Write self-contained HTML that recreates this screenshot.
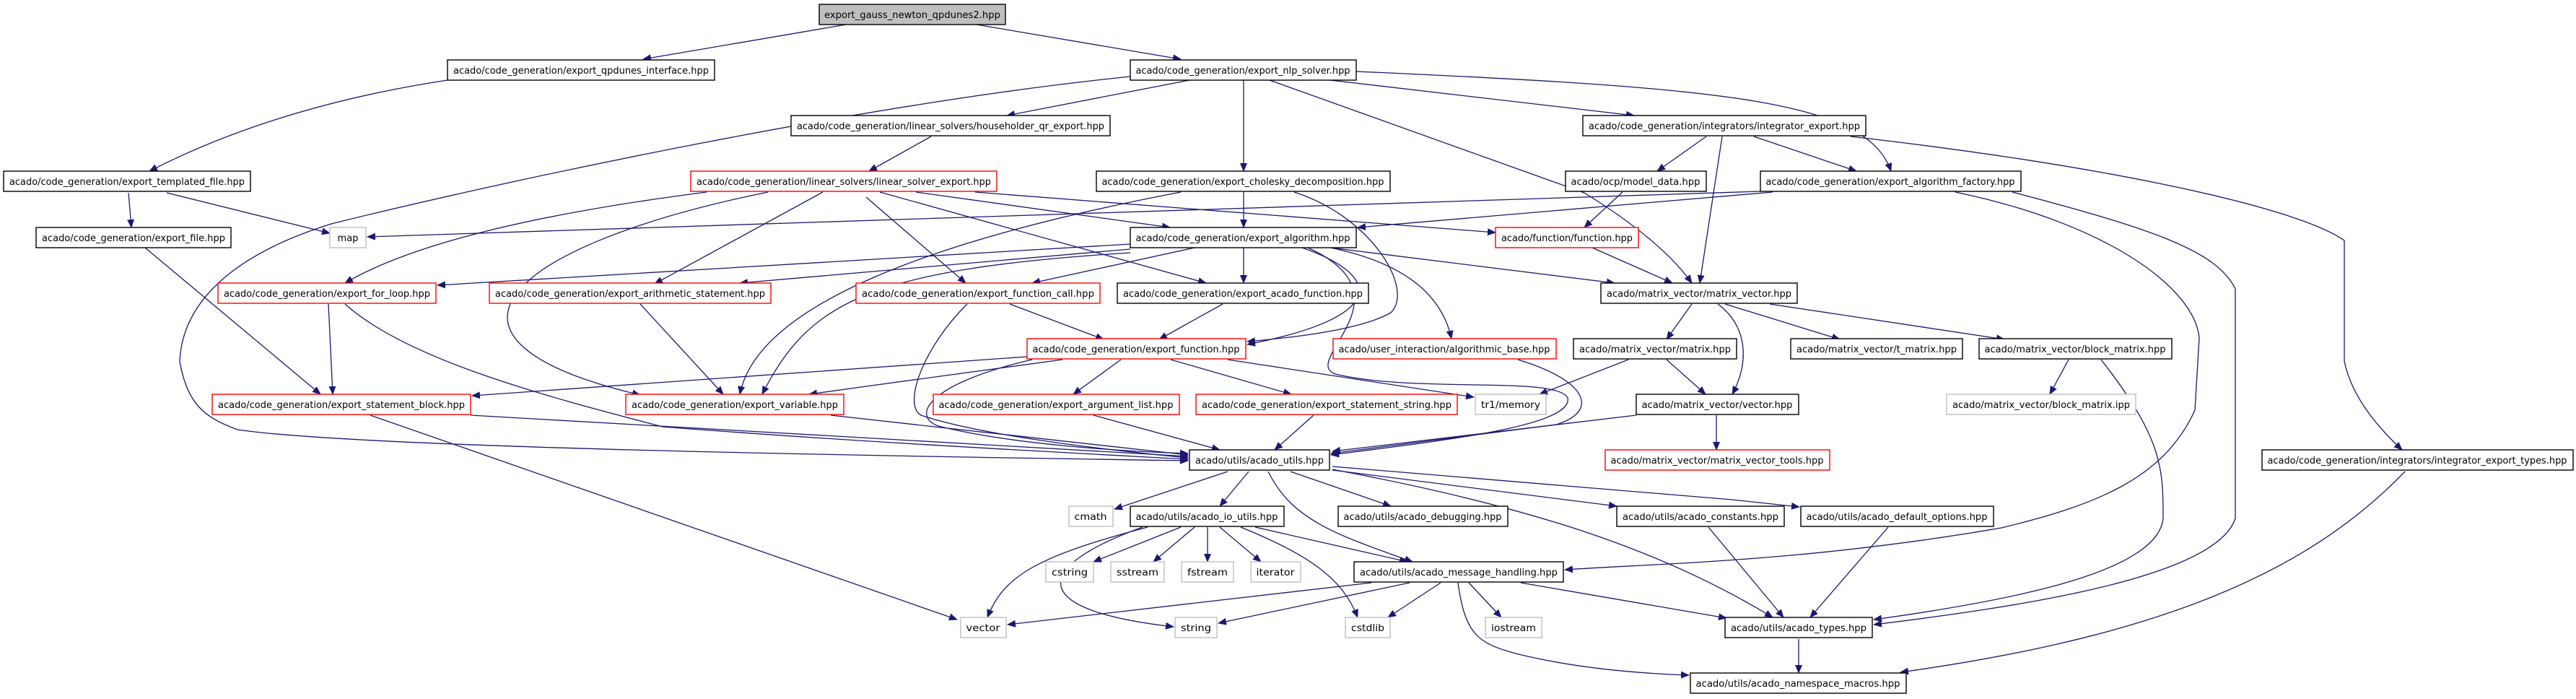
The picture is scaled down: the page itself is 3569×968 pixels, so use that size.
<!DOCTYPE html>
<html><head><meta charset="utf-8"><style>
html,body{margin:0;padding:0;background:#fff;}
svg{display:block;}
text{font-family:"DejaVu Sans","Liberation Sans",sans-serif;font-size:13px;fill:#000;}
.n{fill:#fff;stroke:#000;stroke-width:1.4;}
.r{fill:#fff;stroke:#ff0000;stroke-width:1.4;}
.g{fill:#fff;stroke:#bfbfbf;stroke-width:1.4;}
.e{fill:none;stroke:#191970;stroke-width:1.3;marker-end:url(#a);}
</style></head><body>
<svg width="3569" height="968" viewBox="0 0 3569 968" xmlns="http://www.w3.org/2000/svg">
<defs><marker id="a" markerWidth="12" markerHeight="10" refX="11" refY="5" orient="auto" markerUnits="userSpaceOnUse"><path d="M0,0 L12,5 L0,10 z" fill="#191970"/></marker></defs>
<g>
<path class="e" d="M1178,33 L891,82"/>
<path class="e" d="M620,111 Q383,147 207,237"/>
<path class="e" d="M1566,106 C1200,143 700,250 459,310 C321,353 252,420 249,501 C260,560 283,578 329,595 C500,620 1200,631 1646,638"/>
<path class="e" d="M231,267 L457,323"/>
<path class="e" d="M178,267 L182,315"/>
<path class="e" d="M2439,265 L509,328"/>
<path class="e" d="M201,343 L444,546"/>
<path class="e" d="M979,266 Q612,313 478,392"/>
<path class="e" d="M1064,266 C700,340 560,470 887,547"/>
<path class="e" d="M1140,266 L907,393"/>
<path class="e" d="M1566,338 L606,395"/>
<path class="e" d="M1566,345 L1025,392"/>
<path class="e" d="M455,421 L461,546"/>
<path class="e" d="M478,421 C566,500 765,551 918,591 C1200,613 1500,628 1646,636"/>
<path class="e" d="M887,421 L1002,546"/>
<path class="e" d="M1566,350 C1200,373 1120,420 1056,546"/>
<path class="e" d="M652,575 L1646,632"/>
<path class="e" d="M513,575 L1326,858"/>
<path class="e" d="M1151,575 L1646,630"/>
<path class="e" d="M1423,494 L654,548"/>
<path class="e" d="M1347,33 L1636,82"/>
<path class="e" d="M1648,111 L1395,160"/>
<path class="e" d="M1723,111 L1723,237"/>
<path class="e" d="M1759,111 L2195,267 Q2302,333 2344,392"/>
<path class="e" d="M1843,111 L2264,160"/>
<path class="e" d="M1879,99 C2400,122 2586,140 2620,237"/>
<path class="e" d="M1290,189 L1204,237"/>
<path class="e" d="M2364,189 L2296,237"/>
<path class="e" d="M2386,189 L2355,392"/>
<path class="e" d="M2430,189 L2572,237"/>
<path class="e" d="M2564,189 C2922,230 3183,287 3248,333 L3248,500 Q3260,560 3328,623"/>
<path class="e" d="M1351,266 L2072,322"/>
<path class="e" d="M1269,266 L1621,315"/>
<path class="e" d="M1200,273 L1338,392"/>
<path class="e" d="M1219,266 L1671,392"/>
<path class="e" d="M1723,266 L1723,315"/>
<path class="e" d="M1636,266 C1300,330 1050,420 1025,546"/>
<path class="e" d="M1793,266 C1900,300 1960,400 1927,433 Q1880,460 1728,473"/>
<path class="e" d="M2248,266 L2195,315"/>
<path class="e" d="M2456,266 L1881,315"/>
<path class="e" d="M2206,343 L2317,392"/>
<path class="e" d="M1655,343 L1430,392"/>
<path class="e" d="M1723,343 L1723,392"/>
<path class="e" d="M1843,343 L2237,392"/>
<path class="e" d="M1843,343 Q1990,373 2011,469"/>
<path class="e" d="M1804,343 C1919,383 1920,440 1728,477"/>
<path class="e" d="M1812,343 C1960,410 1800,500 1850,518 C1965,545 2156,520 2172,551 C2180,590 2000,610 1844,630"/>
<path class="e" d="M1399,421 L1529,470"/>
<path class="e" d="M1340,421 C1280,480 1250,560 1276,575 C1350,600 1500,620 1646,634"/>
<path class="e" d="M1694,421 L1606,470"/>
<path class="e" d="M1472,498 L1200,535 L1121,546"/>
<path class="e" d="M1553,498 L1487,546"/>
<path class="e" d="M1622,498 L1789,546"/>
<path class="e" d="M1701,498 L2042,550"/>
<path class="e" d="M1430,498 C1290,530 1260,575 1300,590 C1400,615 1550,625 1646,628"/>
<path class="e" d="M2103,498 C2202,528 2215,570 2156,588 L1844,628"/>
<path class="e" d="M2256,498 L2133,546"/>
<path class="e" d="M2309,498 L2363,546"/>
<path class="e" d="M2380,421 C2420,450 2425,500 2400,546"/>
<path class="e" d="M2344,421 L2309,470"/>
<path class="e" d="M2390,421 L2549,470"/>
<path class="e" d="M2452,421 L2777,470"/>
<path class="e" d="M2866,498 L2840,546"/>
<path class="e" d="M2911,498 C2997,608 2997,650 2997,718 C2990,790 2800,830 2596,858"/>
<path class="e" d="M2709,266 C2922,310 3041,400 3047,468 L3041,568 C2997,665 2900,700 2773,731 C2500,778 2300,780 2168,789"/>
<path class="e" d="M2788,266 C2982,317 3071,347 3097,400 L3097,718 C3070,800 2800,840 2596,865"/>
<path class="e" d="M3332,653 C3200,790 3000,880 2633,931"/>
<path class="e" d="M2492,885 L2492,932"/>
<path class="e" d="M2616,730 L2508,855"/>
<path class="e" d="M2367,730 L2471,855"/>
<path class="e" d="M1846,650 C2118,701 2300,760 2456,855"/>
<path class="e" d="M2107,807 L2392,856"/>
<path class="e" d="M2020,807 C2030,880 2049,891 2100,905 Q2200,930 2340,935"/>
<path class="e" d="M1900,807 L1396,865"/>
<path class="e" d="M1953,807 L1688,863"/>
<path class="e" d="M1996,807 L1923,855"/>
<path class="e" d="M2035,807 L2080,855"/>
<path class="e" d="M1701,653 L1544,705"/>
<path class="e" d="M1730,653 L1690,701"/>
<path class="e" d="M1788,653 L1927,701"/>
<path class="e" d="M1757,653 C1790,720 1850,740 1957,778"/>
<path class="e" d="M1846,651 L2240,701"/>
<path class="e" d="M1846,646 L2400,692 L2493,702"/>
<path class="e" d="M1636,730 L1515,778"/>
<path class="e" d="M1655,730 L1598,778"/>
<path class="e" d="M1673,730 L1673,778"/>
<path class="e" d="M1690,730 L1747,778"/>
<path class="e" d="M1739,730 L1950,778"/>
<path class="e" d="M1719,730 C1812,768 1860,800 1881,855"/>
<path class="e" d="M1590,730 C1430,772 1390,800 1368,855"/>
<path class="e" d="M1583,730 C1430,785 1420,845 1626,868"/>
<path class="e" d="M1820,575 L1766,623"/>
<path class="e" d="M1515,575 L1690,623"/>
<path class="e" d="M2267,575 L1846,625"/>
<path class="e" d="M2378,575 L2378,623"/>
</g>
<g>
<rect x="1135" y="6" width="258" height="28" fill="#bfbfbf" stroke="#000" stroke-width="1.4"/><text x="1264" y="25" text-anchor="middle" textLength="244" lengthAdjust="spacingAndGlyphs">export_gauss_newton_qpdunes2.hpp</text>
<rect class="n" x="620" y="83" width="370" height="28"/><text x="805" y="102" text-anchor="middle" textLength="354" lengthAdjust="spacingAndGlyphs">acado/code_generation/export_qpdunes_interface.hpp</text>
<rect class="n" x="1566" y="83" width="313" height="28"/><text x="1722" y="102" text-anchor="middle" textLength="297" lengthAdjust="spacingAndGlyphs">acado/code_generation/export_nlp_solver.hpp</text>
<rect class="n" x="1096" y="160" width="442" height="28"/><text x="1317" y="179" text-anchor="middle" textLength="426" lengthAdjust="spacingAndGlyphs">acado/code_generation/linear_solvers/householder_qr_export.hpp</text>
<rect class="n" x="2193" y="160" width="392" height="28"/><text x="2389" y="179" text-anchor="middle" textLength="376" lengthAdjust="spacingAndGlyphs">acado/code_generation/integrators/integrator_export.hpp</text>
<rect class="n" x="5" y="237" width="342" height="28"/><text x="176" y="256" text-anchor="middle" textLength="326" lengthAdjust="spacingAndGlyphs">acado/code_generation/export_templated_file.hpp</text>
<rect class="r" x="957" y="237" width="424" height="28"/><text x="1169" y="256" text-anchor="middle" textLength="408" lengthAdjust="spacingAndGlyphs">acado/code_generation/linear_solvers/linear_solver_export.hpp</text>
<rect class="n" x="1519" y="237" width="407" height="28"/><text x="1722" y="256" text-anchor="middle" textLength="391" lengthAdjust="spacingAndGlyphs">acado/code_generation/export_cholesky_decomposition.hpp</text>
<rect class="n" x="2169" y="237" width="195" height="28"/><text x="2266" y="256" text-anchor="middle" textLength="179" lengthAdjust="spacingAndGlyphs">acado/ocp/model_data.hpp</text>
<rect class="n" x="2439" y="237" width="361" height="28"/><text x="2619" y="256" text-anchor="middle" textLength="345" lengthAdjust="spacingAndGlyphs">acado/code_generation/export_algorithm_factory.hpp</text>
<rect class="n" x="50" y="315" width="270" height="28"/><text x="185" y="334" text-anchor="middle" textLength="254" lengthAdjust="spacingAndGlyphs">acado/code_generation/export_file.hpp</text>
<rect class="g" x="457" y="315" width="50" height="28"/><text x="482" y="334" text-anchor="middle">map</text>
<rect class="n" x="1566" y="315" width="313" height="28"/><text x="1722" y="334" text-anchor="middle" textLength="297" lengthAdjust="spacingAndGlyphs">acado/code_generation/export_algorithm.hpp</text>
<rect class="r" x="2072" y="315" width="198" height="28"/><text x="2171" y="334" text-anchor="middle" textLength="182" lengthAdjust="spacingAndGlyphs">acado/function/function.hpp</text>
<rect class="r" x="302" y="392" width="302" height="28"/><text x="453" y="411" text-anchor="middle" textLength="286" lengthAdjust="spacingAndGlyphs">acado/code_generation/export_for_loop.hpp</text>
<rect class="r" x="678" y="392" width="390" height="28"/><text x="873" y="411" text-anchor="middle" textLength="374" lengthAdjust="spacingAndGlyphs">acado/code_generation/export_arithmetic_statement.hpp</text>
<rect class="r" x="1186" y="392" width="338" height="28"/><text x="1355" y="411" text-anchor="middle" textLength="322" lengthAdjust="spacingAndGlyphs">acado/code_generation/export_function_call.hpp</text>
<rect class="n" x="1548" y="392" width="348" height="28"/><text x="1722" y="411" text-anchor="middle" textLength="332" lengthAdjust="spacingAndGlyphs">acado/code_generation/export_acado_function.hpp</text>
<rect class="n" x="2218" y="392" width="272" height="28"/><text x="2354" y="411" text-anchor="middle" textLength="256" lengthAdjust="spacingAndGlyphs">acado/matrix_vector/matrix_vector.hpp</text>
<rect class="r" x="1423" y="469" width="303" height="28"/><text x="1574" y="488" text-anchor="middle" textLength="287" lengthAdjust="spacingAndGlyphs">acado/code_generation/export_function.hpp</text>
<rect class="r" x="1847" y="469" width="309" height="28"/><text x="2001" y="488" text-anchor="middle" textLength="293" lengthAdjust="spacingAndGlyphs">acado/user_interaction/algorithmic_base.hpp</text>
<rect class="n" x="2180" y="469" width="226" height="28"/><text x="2293" y="488" text-anchor="middle" textLength="210" lengthAdjust="spacingAndGlyphs">acado/matrix_vector/matrix.hpp</text>
<rect class="n" x="2481" y="469" width="238" height="28"/><text x="2600" y="488" text-anchor="middle" textLength="222" lengthAdjust="spacingAndGlyphs">acado/matrix_vector/t_matrix.hpp</text>
<rect class="n" x="2742" y="469" width="267" height="28"/><text x="2875" y="488" text-anchor="middle" textLength="251" lengthAdjust="spacingAndGlyphs">acado/matrix_vector/block_matrix.hpp</text>
<rect class="r" x="294" y="546" width="358" height="28"/><text x="473" y="565" text-anchor="middle" textLength="342" lengthAdjust="spacingAndGlyphs">acado/code_generation/export_statement_block.hpp</text>
<rect class="r" x="867" y="546" width="302" height="28"/><text x="1018" y="565" text-anchor="middle" textLength="286" lengthAdjust="spacingAndGlyphs">acado/code_generation/export_variable.hpp</text>
<rect class="r" x="1293" y="546" width="341" height="28"/><text x="1463" y="565" text-anchor="middle" textLength="325" lengthAdjust="spacingAndGlyphs">acado/code_generation/export_argument_list.hpp</text>
<rect class="r" x="1657" y="546" width="362" height="28"/><text x="1838" y="565" text-anchor="middle" textLength="346" lengthAdjust="spacingAndGlyphs">acado/code_generation/export_statement_string.hpp</text>
<rect class="g" x="2044" y="546" width="98" height="28"/><text x="2093" y="565" text-anchor="middle" textLength="82" lengthAdjust="spacingAndGlyphs">tr1/memory</text>
<rect class="n" x="2267" y="546" width="225" height="28"/><text x="2379" y="565" text-anchor="middle" textLength="209" lengthAdjust="spacingAndGlyphs">acado/matrix_vector/vector.hpp</text>
<rect class="g" x="2697" y="546" width="262" height="28"/><text x="2828" y="565" text-anchor="middle" textLength="246" lengthAdjust="spacingAndGlyphs">acado/matrix_vector/block_matrix.ipp</text>
<rect class="n" x="1648" y="623" width="194" height="28"/><text x="1745" y="642" text-anchor="middle" textLength="178" lengthAdjust="spacingAndGlyphs">acado/utils/acado_utils.hpp</text>
<rect class="r" x="2224" y="623" width="311" height="28"/><text x="2379" y="642" text-anchor="middle" textLength="295" lengthAdjust="spacingAndGlyphs">acado/matrix_vector/matrix_vector_tools.hpp</text>
<rect class="n" x="3134" y="623" width="431" height="28"/><text x="3349" y="642" text-anchor="middle" textLength="415" lengthAdjust="spacingAndGlyphs">acado/code_generation/integrators/integrator_export_types.hpp</text>
<rect class="g" x="1481" y="701" width="61" height="28"/><text x="1511" y="720" text-anchor="middle" textLength="45" lengthAdjust="spacingAndGlyphs">cmath</text>
<rect class="n" x="1566" y="701" width="213" height="28"/><text x="1672" y="720" text-anchor="middle" textLength="197" lengthAdjust="spacingAndGlyphs">acado/utils/acado_io_utils.hpp</text>
<rect class="n" x="1854" y="701" width="235" height="28"/><text x="1971" y="720" text-anchor="middle" textLength="219" lengthAdjust="spacingAndGlyphs">acado/utils/acado_debugging.hpp</text>
<rect class="n" x="2240" y="701" width="232" height="28"/><text x="2356" y="720" text-anchor="middle" textLength="216" lengthAdjust="spacingAndGlyphs">acado/utils/acado_constants.hpp</text>
<rect class="n" x="2495" y="701" width="267" height="28"/><text x="2628" y="720" text-anchor="middle" textLength="251" lengthAdjust="spacingAndGlyphs">acado/utils/acado_default_options.hpp</text>
<rect class="g" x="1449" y="778" width="66" height="28"/><text x="1482" y="797" text-anchor="middle" textLength="50" lengthAdjust="spacingAndGlyphs">cstring</text>
<rect class="g" x="1539" y="778" width="74" height="28"/><text x="1576" y="797" text-anchor="middle" textLength="58" lengthAdjust="spacingAndGlyphs">sstream</text>
<rect class="g" x="1637" y="778" width="72" height="28"/><text x="1673" y="797" text-anchor="middle" textLength="56" lengthAdjust="spacingAndGlyphs">fstream</text>
<rect class="g" x="1733" y="778" width="69" height="28"/><text x="1767" y="797" text-anchor="middle" textLength="53" lengthAdjust="spacingAndGlyphs">iterator</text>
<rect class="n" x="1876" y="778" width="290" height="28"/><text x="2021" y="797" text-anchor="middle" textLength="274" lengthAdjust="spacingAndGlyphs">acado/utils/acado_message_handling.hpp</text>
<rect class="g" x="1331" y="855" width="63" height="28"/><text x="1362" y="874" text-anchor="middle" textLength="47" lengthAdjust="spacingAndGlyphs">vector</text>
<rect class="g" x="1628" y="855" width="58" height="28"/><text x="1657" y="874" text-anchor="middle" textLength="42" lengthAdjust="spacingAndGlyphs">string</text>
<rect class="g" x="1864" y="855" width="62" height="28"/><text x="1895" y="874" text-anchor="middle" textLength="46" lengthAdjust="spacingAndGlyphs">cstdlib</text>
<rect class="g" x="2058" y="855" width="78" height="28"/><text x="2097" y="874" text-anchor="middle" textLength="62" lengthAdjust="spacingAndGlyphs">iostream</text>
<rect class="n" x="2390" y="855" width="204" height="28"/><text x="2492" y="874" text-anchor="middle" textLength="188" lengthAdjust="spacingAndGlyphs">acado/utils/acado_types.hpp</text>
<rect class="n" x="2342" y="932" width="299" height="28"/><text x="2491" y="951" text-anchor="middle" textLength="283" lengthAdjust="spacingAndGlyphs">acado/utils/acado_namespace_macros.hpp</text>
</g>
</svg>
</body></html>
